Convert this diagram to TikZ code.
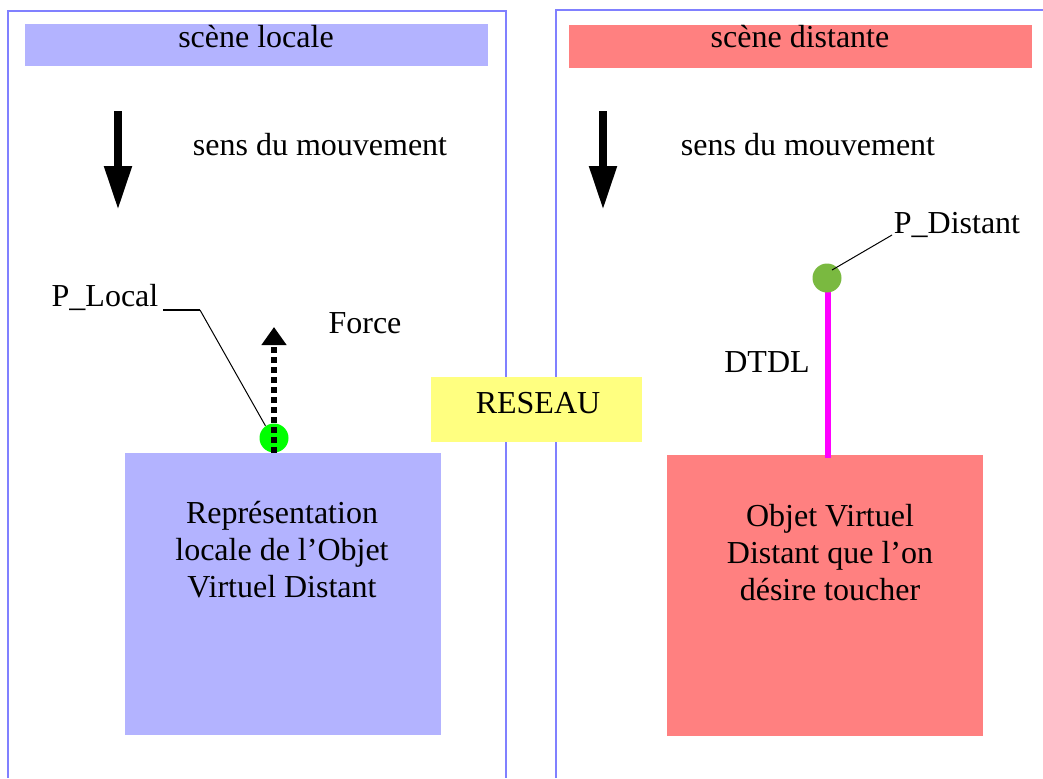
\documentclass[tikz,border=0pt]{standalone}
\usepackage{fontspec}
\setmainfont{Liberation Serif}
\usetikzlibrary{arrows.meta,calc}
\definecolor{framec}{HTML}{8080FF}
\definecolor{bluebox}{HTML}{B3B3FF}
\definecolor{redbox}{HTML}{FF8080}
\definecolor{yellowbox}{HTML}{FFFF80}
\definecolor{greendot}{HTML}{00FF00}
\definecolor{olivedot}{HTML}{7AB940}
\definecolor{magline}{HTML}{FF00FF}
\begin{document}
\begin{tikzpicture}[x=0.5pt,y=-0.5pt,
  lbl/.style={inner sep=0pt,font=\fontsize{16}{18.5}\selectfont},
  boxtxt/.style={lbl,align=center},
  framel/.style={draw=framec,line width=0.7pt},
  bigarrow/.style={line width=4pt,-{Triangle[width=13pt,length=22pt]}},
  dot/.style={circle,inner sep=0pt,minimum size=14.5pt}]
\useasboundingbox (0,0) rectangle (1043,778);
% frames
\draw[framel] (8,778) -- (8,11) -- (506,11) -- (506,778);
\draw[framel] (556,778) -- (556,10) -- (1043,10);
% headers
\fill[bluebox] (25,24) rectangle (488,66);
\node[lbl] (hl) at (256,37) {scène locale};
\fill[redbox] (569,25) rectangle (1032,68);
\node[lbl] (hr) at (800,37) {scène distante};
% movement arrows
\coordinate (al1) at (118,111); \coordinate (al2) at (118,210);
\draw[bigarrow] (al1) -- (al2);
\coordinate (ar1) at (603,111); \coordinate (ar2) at (603,210);
\draw[bigarrow] (ar1) -- (ar2);
\node[lbl] (sl) at (320,145) {sens du mouvement};
\node[lbl] (sr) at (808,145) {sens du mouvement};
% boxes
\node[fill=bluebox,minimum width=158pt,minimum height=141pt,inner sep=0pt] (bb) at (283,594) {};
\node[boxtxt] (bbt) at (282,550) {Représentation\\locale de l’Objet\\Virtuel Distant};
\node[fill=redbox,minimum width=158pt,minimum height=140.5pt,inner sep=0pt] (rb) at (825,595.5) {};
\node[boxtxt] (rbt) at (830,553) {Objet Virtuel\\Distant que l’on\\désire toucher};
% RESEAU
\node[fill=yellowbox,minimum width=105.5pt,minimum height=32.5pt,inner sep=0pt] (net) at (536.5,409.5) {};
\node[lbl] (nett) at (538,403) {RESEAU};
% local point
\node[dot,fill=greendot] (gdot) at (274,438) {};
\coordinate (fstart) at (274,453);
\coordinate (fend) at (274,327);
\draw[line width=3pt,dash pattern=on 2.8pt off 2.2pt,-{Triangle[width=12pt,length=9pt]}] (fstart) -- (fend);
\node[lbl] (force) at (365,323) {Force};
\node[lbl] (pl) at (105,297) {P\_Local};
\coordinate (pl1) at (163,310);
\coordinate (pl2) at (200,310);
\draw[line width=1pt] (pl1) -- (pl2);
\draw[line width=0.5pt] (pl2) -- (gdot.125);
% distant point
\coordinate (mtop) at (828,285);
\coordinate (mbot) at (828,458);
\draw[magline,line width=3pt] (mtop) -- (mbot);
\node[dot,fill=olivedot] (odot) at (827,278) {};
\node[lbl] (dtdl) at (767,362) {DTDL};
\node[lbl] (pd) at (957,225) {P\_Distant};
\coordinate (pd1) at (892,235);
\draw[line width=0.5pt] (pd1) -- ($(odot.center)+(5,-8)$);
\end{tikzpicture}
\end{document}
